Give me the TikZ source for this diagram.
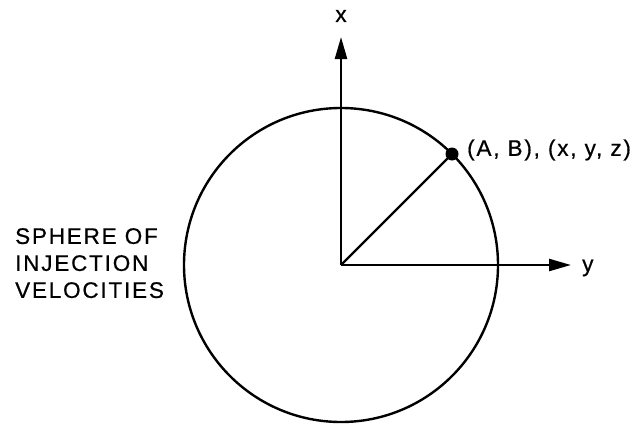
\documentclass[tikz,border=0pt]{standalone}
\usepackage{fontspec}
\setmainfont{Liberation Sans}[LetterSpace=8,FakeBold=0.6]
\usetikzlibrary{arrows.meta}
\begin{document}
\begin{tikzpicture}[x=1pt,y=-1pt,
  ln/.style={line width=2.4pt},
  ax/.style={ln,-{Triangle[length=22pt,width=12pt]}},
  lbl/.style={inner sep=0pt,font=\fontsize{22.5}{27}\selectfont}]
\useasboundingbox (0,0) rectangle (644,428);
\coordinate (O) at (341,265);
\coordinate (X) at (341,37);
\coordinate (Y) at (571,265);
\draw[ln] (O) circle[radius=157];
\draw[ax] (O) -- (X);
\draw[ax] (O) -- (Y);
\coordinate (P) at (452,154);
\draw[ln] (O) -- (P);
\fill (P) circle[radius=6.5];
\node[lbl,anchor=center] (xl) at (341,16) {x};
\node[lbl,anchor=west] (yl) at (582,268) {y};
\node[lbl,anchor=west] (pl) at (467,150) {(A, B), (x, y, z)};
\node[lbl,anchor=north west,align=left] (sp) at (15,228) {SPHERE OF\\INJECTION\\VELOCITIES};
\end{tikzpicture}
\end{document}
